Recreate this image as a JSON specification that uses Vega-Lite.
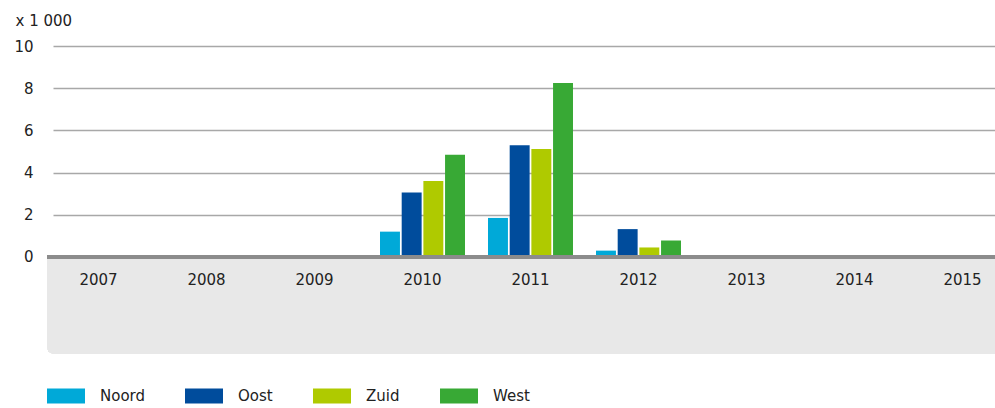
{
  "$schema": "https://vega.github.io/schema/vega-lite/v6.json",
  "width": 942,
  "height": 308,
  "autosize": {"type": "none"},
  "padding": {"left": 53, "top": 46, "right": 0, "bottom": 54},
  "background": "white",
  "config": {
    "view": {"stroke": null},
    "font": "DejaVu Sans",
    "axis": {"labelFont": "DejaVu Sans", "labelFontSize": 15, "labelColor": "#222222"},
    "legend": {"labelFont": "DejaVu Sans", "labelFontSize": 15, "labelColor": "#222222"}
  },
  "data": {
    "values": [
      {"year": "2007", "region": "Noord", "value": 0},
      {"year": "2007", "region": "Oost", "value": 0},
      {"year": "2007", "region": "Zuid", "value": 0},
      {"year": "2007", "region": "West", "value": 0},
      {"year": "2008", "region": "Noord", "value": 0},
      {"year": "2008", "region": "Oost", "value": 0},
      {"year": "2008", "region": "Zuid", "value": 0},
      {"year": "2008", "region": "West", "value": 0},
      {"year": "2009", "region": "Noord", "value": 0},
      {"year": "2009", "region": "Oost", "value": 0},
      {"year": "2009", "region": "Zuid", "value": 0},
      {"year": "2009", "region": "West", "value": 0},
      {"year": "2010", "region": "Noord", "value": 1.2},
      {"year": "2010", "region": "Oost", "value": 3.05},
      {"year": "2010", "region": "Zuid", "value": 3.6},
      {"year": "2010", "region": "West", "value": 4.85},
      {"year": "2011", "region": "Noord", "value": 1.85},
      {"year": "2011", "region": "Oost", "value": 5.3},
      {"year": "2011", "region": "Zuid", "value": 5.12},
      {"year": "2011", "region": "West", "value": 8.25},
      {"year": "2012", "region": "Noord", "value": 0.3},
      {"year": "2012", "region": "Oost", "value": 1.32},
      {"year": "2012", "region": "Zuid", "value": 0.45},
      {"year": "2012", "region": "West", "value": 0.78},
      {"year": "2013", "region": "Noord", "value": 0},
      {"year": "2013", "region": "Oost", "value": 0},
      {"year": "2013", "region": "Zuid", "value": 0},
      {"year": "2013", "region": "West", "value": 0},
      {"year": "2014", "region": "Noord", "value": 0},
      {"year": "2014", "region": "Oost", "value": 0},
      {"year": "2014", "region": "Zuid", "value": 0},
      {"year": "2014", "region": "West", "value": 0},
      {"year": "2015", "region": "Noord", "value": 0},
      {"year": "2015", "region": "Oost", "value": 0},
      {"year": "2015", "region": "Zuid", "value": 0},
      {"year": "2015", "region": "West", "value": 0}
    ]
  },
  "layer": [
    {
      "mark": {"type": "rect", "color": "#e8e8e8", "cornerRadiusBottomLeft": 8},
      "encoding": {
        "x": {"value": -6},
        "x2": {"value": "width"},
        "y": {"datum": 0, "type": "quantitative"},
        "y2": {"datum": -4.6}
      }
    },
    {
      "mark": {"type": "bar"},
      "encoding": {
        "x": {
          "field": "year",
          "type": "nominal",
          "scale": {"range": [0, 955], "paddingInner": 0.213, "paddingOuter": 0.028},
          "axis": {
            "title": null,
            "orient": "bottom",
            "offset": -82,
            "domain": false,
            "ticks": false,
            "labelAngle": 0,
            "labelPadding": 0,
            "labelBaseline": "top",
            "zindex": 2
          }
        },
        "xOffset": {
          "field": "region",
          "type": "nominal",
          "sort": ["Noord", "Oost", "Zuid", "West"],
          "scale": {"paddingInner": 0.08, "paddingOuter": 0}
        },
        "y": {
          "field": "value",
          "type": "quantitative",
          "scale": {"domain": [-4.6, 10], "nice": false, "zero": false},
          "axis": {
            "title": "x 1 000",
            "titleAngle": 0,
            "titleAlign": "left",
            "titleBaseline": "alphabetic",
            "titleX": -38,
            "titleY": -21,
            "titleFont": "DejaVu Sans",
            "titleFontSize": 15,
            "titleFontWeight": "normal",
            "titleColor": "#222222",
            "values": [0, 2, 4, 6, 8, 10],
            "domain": false,
            "ticks": false,
            "labelPadding": 20,
            "grid": true,
            "gridColor": "#a8a8a8",
            "gridWidth": 1.5
          }
        },
        "y2": {"datum": 0},
        "color": {
          "field": "region",
          "type": "nominal",
          "sort": ["Noord", "Oost", "Zuid", "West"],
          "scale": {
            "domain": ["Noord", "Oost", "Zuid", "West"],
            "range": ["#00a9d8", "#004c9c", "#afca00", "#38a935"]
          },
          "legend": {
            "title": null,
            "orient": "none",
            "direction": "horizontal",
            "columns": 4,
            "legendX": -6,
            "legendY": 331,
            "symbolType": "M-1,-0.4H1V0.4H-1Z",
            "symbolSize": 1444,
            "symbolStrokeWidth": 0,
            "symbolOpacity": 1,
            "labelOffset": 15,
            "labelBaseline": "middle",
            "columnPadding": 40
          }
        }
      }
    },
    {
      "mark": {"type": "rule", "color": "#8c8c8c", "strokeWidth": 3},
      "encoding": {
        "x": {"value": -6},
        "x2": {"value": "width"},
        "y": {"datum": 0, "type": "quantitative"}
      }
    }
  ]
}
